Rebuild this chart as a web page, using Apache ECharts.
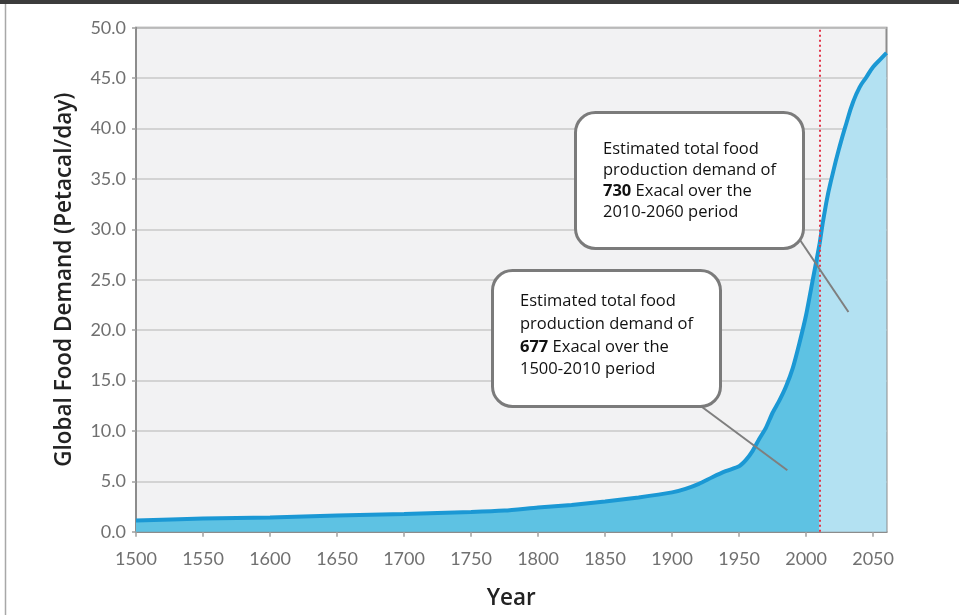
<!DOCTYPE html>
<html>
<head>
<meta charset="utf-8">
<script src="https://cdn.jsdelivr.net/npm/echarts@6/dist/echarts.min.js"></script>
<style>
html,body{margin:0;padding:0;background:#fff;}
#c{width:959px;height:615px;}
</style>
</head>
<body>
<div id="c"></div>
<script>
// ---- data ----
const historicYears = [1500,1550,1600,1650,1700,1750,1775,1800,1825,1850,1875,1900,1910,1920,1930,1940,1950,1955,1960,1965,1970,1975,1980,1985,1990,1995,2000,2005,2010];
const historicDemand = [1.1,1.3,1.4,1.6,1.75,1.95,2.1,2.4,2.65,3.0,3.4,3.9,4.25,4.75,5.4,6.0,6.5,7.1,8.0,9.2,10.3,11.8,13.0,14.4,16.2,18.7,21.5,25.0,28.5];
const projectedYears = [2010,2015,2020,2025,2030,2035,2040,2045,2050,2055,2060];
const projectedDemand = [28.5,32.6,35.6,38.2,40.5,42.6,44.1,45.1,46.1,46.8,47.5];
const splitYear = 2010;
const yTicks = {min:0, max:50, step:5};
const xTicks = {min:1500, max:2060, step:50};
const callout1 = ["Estimated total food", "production demand of", "{b|730} Exacal over the", "2010-2060 period"];
const callout2 = ["Estimated total food", "production demand of", "{b|677} Exacal over the", "1500-2010 period"];
const callout1Tip = [2031.6, 21.8];
const callout2Tip = [1986, 6.1];

const toPairs = (xs, ys) => xs.map((x, i) => [x, ys[i]]);

const chart = echarts.init(document.getElementById('c'), null, {renderer:'canvas'});
const lineColor = '#1b98d4';
const titleFont = {fontFamily: 'Open Sans', fontWeight: 600, fontSize: 22.5, color: '#222'};
const tickFont = {fontFamily: 'Lato', fontSize: 18, color: '#707070'};

chart.setOption({
  animation: false,
  backgroundColor: '#ffffff',
  grid: {
    left: 136, right: 72.5, top: 27.7, bottom: 83.3,
    show: true, backgroundColor: '#f2f2f3', borderColor: '#8c8c8c', borderWidth: 2
  },
  xAxis: {
    type: 'value', min: xTicks.min, max: xTicks.max, interval: xTicks.step,
    name: 'Year', nameLocation: 'middle', nameGap: 55,
    nameTextStyle: titleFont,
    axisLine: {show: true, lineStyle: {color: '#8c8c8c', width: 2}},
    axisTick: {show: true, length: 5, lineStyle: {color: '#a0a0a0', width: 1.5}},
    axisLabel: Object.assign({
      margin: 18, showMaxLabel: false,
      formatter: v => (v % xTicks.step === 0 ? String(v) : '')
    }, tickFont),
    splitLine: {show: false}
  },
  yAxis: {
    type: 'value', min: yTicks.min, max: yTicks.max, interval: yTicks.step,
    name: 'Global Food Demand (Petacal/day)', nameLocation: 'middle', nameGap: 60,
    nameTextStyle: titleFont,
    axisLine: {show: true, lineStyle: {color: '#8c8c8c', width: 2}},
    axisTick: {show: true, length: 4, lineStyle: {color: '#a0a0a0', width: 1.5}},
    axisLabel: Object.assign({margin: 10, formatter: v => v.toFixed(1)}, tickFont),
    splitLine: {show: true, lineStyle: {color: '#c8c8c8', width: 1.5}}
  },
  series: [
    {
      type: 'line', name: 'historic', data: toPairs(historicYears, historicDemand),
      showSymbol: false, smooth: 0.2, z: 3,
      lineStyle: {color: lineColor, width: 4},
      areaStyle: {color: '#5ec2e3', opacity: 1}
    },
    {
      type: 'line', name: 'projected', data: toPairs(projectedYears, projectedDemand),
      showSymbol: false, smooth: 0.5, z: 3,
      lineStyle: {color: lineColor, width: 4},
      areaStyle: {color: '#b3e1f2', opacity: 1},
      markLine: {
        silent: true, symbol: 'none', label: {show: false}, z: 5,
        lineStyle: {color: '#e4374b', type: [2, 3], width: 2},
        data: [{xAxis: splitYear}]
      }
    }
  ]
});

function drawAnnotations() {
  const tip1 = chart.convertToPixel({gridIndex: 0}, callout1Tip);
  const tip2 = chart.convertToPixel({gridIndex: 0}, callout2Tip);
  const fs = 16.5;
  const txtStyle = (lines, lh) => ({
    text: lines.join('\n'), fontFamily: 'Open Sans', fontSize: fs, fill: '#111',
    lineHeight: lh,
    rich: {b: {fontFamily: 'Open Sans', fontWeight: 'bold', fontSize: fs, color: '#111', lineHeight: lh}}
  });
  chart.setOption({
    graphic: [
      {type: 'rect', left: 0, top: 0, shape: {width: 959, height: 4}, style: {fill: '#3c3c3c'}, z: 100},
      {type: 'line', shape: {x1: 5.5, y1: 4, x2: 5.5, y2: 615}, style: {stroke: '#a8a8a8', lineWidth: 1.5}, z: 100},
      {type: 'line', shape: {x1: 800, y1: 240, x2: tip1[0], y2: tip1[1]}, style: {stroke: '#7f7f7f', lineWidth: 2}, z: 100},
      {type: 'line', shape: {x1: 698, y1: 404, x2: tip2[0], y2: tip2[1]}, style: {stroke: '#7f7f7f', lineWidth: 2}, z: 100},
      {type: 'rect', shape: {x: 575.5, y: 112.5, width: 228, height: 136, r: 20},
        style: {fill: '#ffffff', stroke: '#7b7b7b', lineWidth: 3}, z: 101},
      {type: 'text', x: 603, y: 138.5, style: txtStyle(callout1, 21), z: 102},
      {type: 'rect', shape: {x: 492.5, y: 270.5, width: 228, height: 136, r: 20},
        style: {fill: '#ffffff', stroke: '#7b7b7b', lineWidth: 3}, z: 101},
      {type: 'text', x: 520, y: 290.3, style: txtStyle(callout2, 22.7), z: 102}
    ]
  });
}
drawAnnotations();
</script>
</body>
</html>
